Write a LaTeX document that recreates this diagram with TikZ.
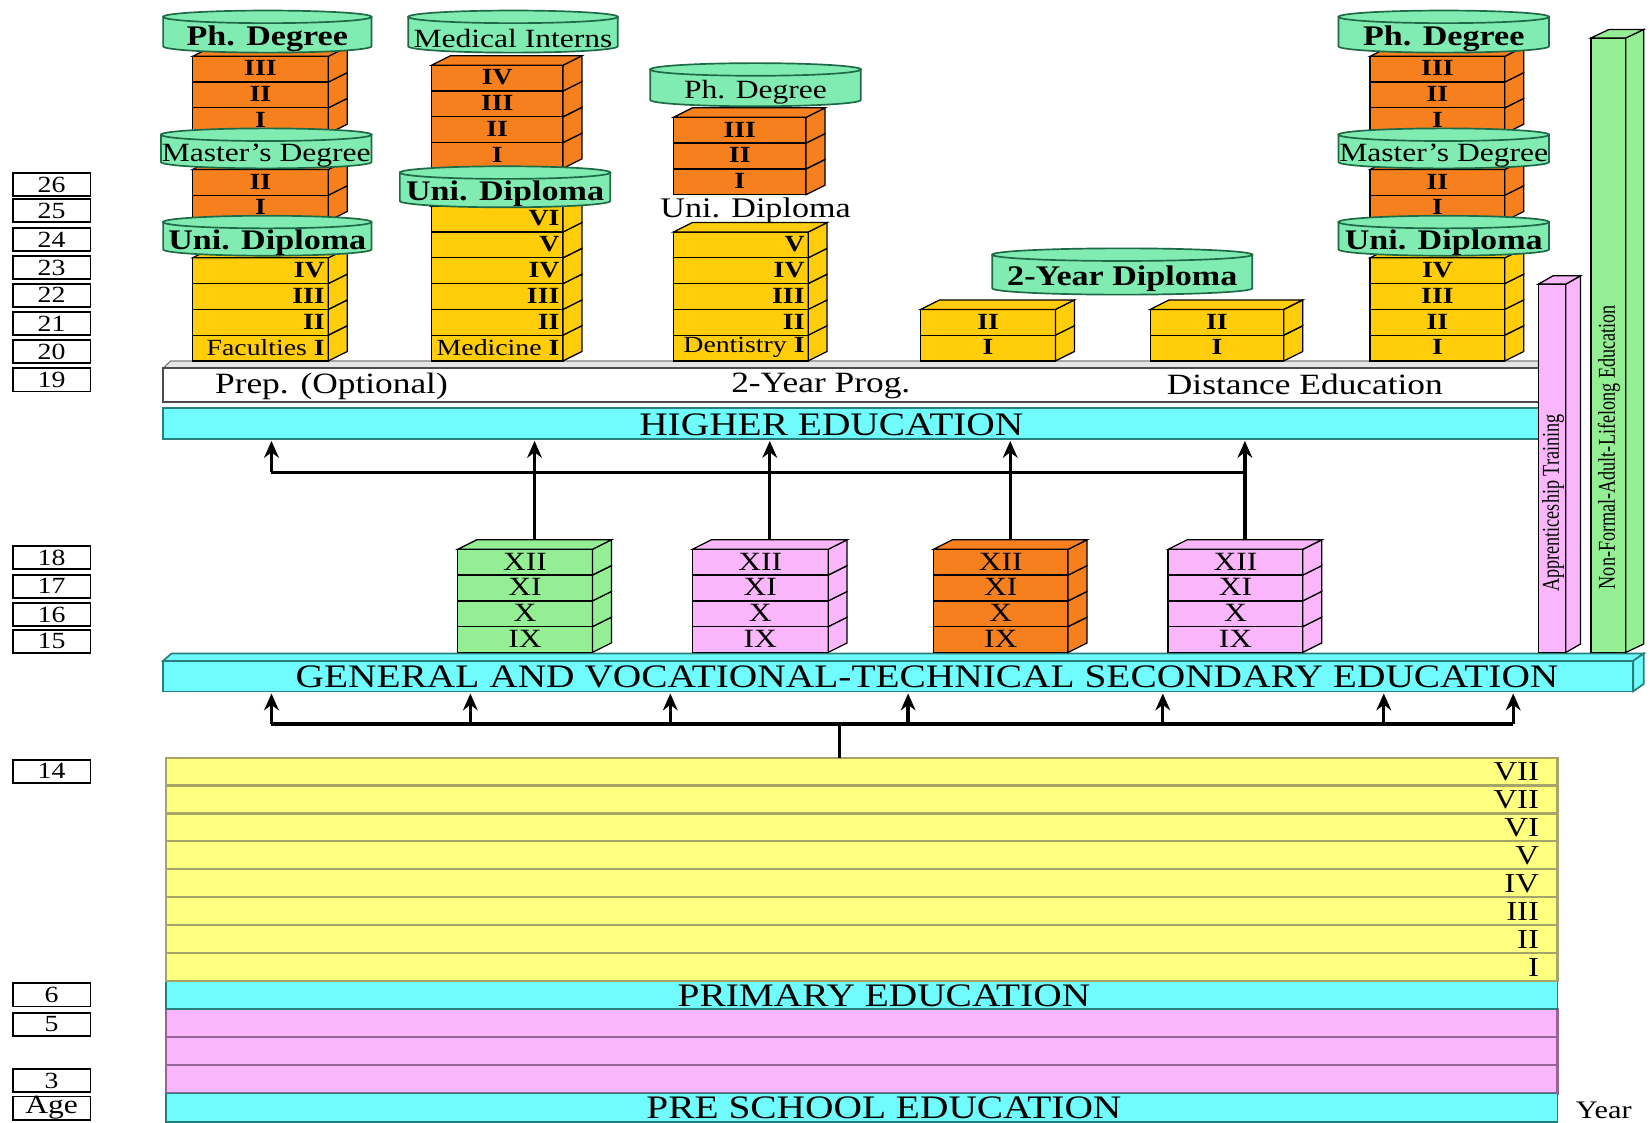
\documentclass[tikz,border=0pt]{standalone}
\usepackage{fontspec}
\setmainfont[FakeStretch=1.2]{Liberation Serif}
\newfontfamily\narrowserif[FakeStretch=0.75]{Liberation Serif}
\usetikzlibrary{arrows.meta}
\definecolor{bandcyan}{RGB}{112,252,252}
\definecolor{bandedge}{RGB}{40,125,125}
\definecolor{drumgreen}{RGB}{128,236,178}
\definecolor{drumedge}{RGB}{30,105,70}
\definecolor{tierorange}{RGB}{246,128,30}
\definecolor{tieryellow}{RGB}{255,205,10}
\definecolor{primyellow}{RGB}{255,255,128}
\definecolor{primedge}{RGB}{165,165,105}
\definecolor{softpink}{RGB}{250,182,250}
\definecolor{pinkedge}{RGB}{150,100,150}
\definecolor{softgreen}{RGB}{148,238,148}
\newcommand{\boldlab}{\fontsize{13.5}{13.5}\selectfont\bfseries}
\newcommand{\wordlab}[1]{{\mdseries #1}}
% one stack of 3D tiers, labels listed from the bottom up
\newcommand{\tierstack}[8]{%
  \foreach \lab [count=\k] in {#8} {
    \pgfmathsetmacro{\yb}{#4-(\k-1)*24.5}
    \pgfmathsetmacro{\yt}{\yb-24.5}
    \filldraw[tier, fill=#6] (#2,\yb) rectangle (#3,\yt);
    \filldraw[tier, fill=#6] (#3,\yb) -- ++(18,-9) -- ++(0,-24.5) -- (#3,\yt) -- cycle;
    \if r#7
      \node[tierlab, anchor=east] (#1-\k) at (#3-3,\yb-13) {\lab};
    \else
      \node[tierlab] (#1-\k) at ({(#2+#3)/2},\yb-13) {\lab};
    \fi
  }
  \pgfmathsetmacro{\ytop}{#4-#5*24.5}
  \filldraw[tier, fill=#6] (#2,\ytop) -- ++(18,-9) -- ++(#3-#2,0) -- (#3,\ytop) -- cycle;
  \coordinate (#1-top) at ({(#2+#3)/2+9},\ytop-9);
}
% a flat green drum carrying a degree name
\newcommand{\drum}[6]{%
  \pgfmathsetmacro{\drumrx}{(#3-#2)/4}
  \filldraw[drum] (#2,#4+6) -- (#2,#5-6)
    arc[start angle=180, end angle=360, x radius=\drumrx pt, y radius=3pt]
    -- (#3,#4+6) -- cycle;
  \filldraw[drum] ({(#2+#3)/2},#4+6) ellipse[x radius=\drumrx pt, y radius=3pt];
  \node[drumlab] (#1) at ({(#2+#3)/2},{(#4+#5)/2+7}) {#6};
}
\tikzset{
  tier/.style     = {draw=black, line width=0.6pt},
  tierlab/.style  = {font=\fontsize{11}{11}\selectfont\bfseries, inner sep=0pt},
  drum/.style     = {fill=drumgreen, draw=drumedge, line width=0.8pt},
  drumlab/.style  = {font=\fontsize{12.5}{12.5}\selectfont, inner sep=0pt},
  band/.style     = {fill=bandcyan, draw=bandedge, line width=0.8pt},
  bandlab/.style  = {font=\fontsize{15.6}{15.6}\selectfont, inner sep=0pt},
  progtext/.style = {font=\fontsize{14}{14}\selectfont, inner sep=0pt},
  primrow/.style  = {fill=primyellow, draw=primedge, line width=1.1pt},
  prerow/.style   = {fill=softpink, draw=pinkedge, line width=1.1pt},
  primlab/.style  = {font=\fontsize{13}{13}\selectfont, inner sep=0pt},
  vertlab/.style  = {font=\narrowserif\fontsize{11.5}{11.5}\selectfont, inner sep=0pt, rotate=90},
  agebox/.style   = {draw=black, line width=0.9pt, fill=white, minimum width=37pt,
                     minimum height=11pt, inner sep=0pt, font=\fontsize{11}{11}\selectfont},
  flowline/.style = {line width=1.6pt},
  uparrow/.style  = {flowline, -{Stealth[length=8pt,width=7pt]}}
}
\begin{document}
\begin{tikzpicture}[x=0.5pt, y=-0.5pt]
  \useasboundingbox (0,0) rectangle (1568,1067);
  \fill[white] (0,0) rectangle (1568,1067);

  % age column
  \foreach \a/\y in {26/175.5,25/200,24/227.5,23/254.5,22/280.5,21/307.5,20/334,19/361,
                     18/530,17/557,16/584,15/609.5,14/733,6/945.5,5/973.5,3/1027}
    \node[agebox] (age-\a) at (49,\y) {\a};
  \node[agebox, font=\fontsize{12.5}{12.5}\selectfont] (age-label) at (49,1053) {Age};

  % pre-school and primary
  \foreach \k in {0,1,2}
    \filldraw[prerow] (158,{959+\k*26.67}) rectangle (1480,{985.67+\k*26.67});
  \filldraw[band] (158,1039) rectangle (1480,1066);
  \node[bandlab] (presch) at (840,1053) {PRE SCHOOL EDUCATION};
  \node[font=\fontsize{12}{12}\selectfont, inner sep=0pt] (year) at (1524,1055) {Year};
  \filldraw[band] (158,932) rectangle (1480,959);
  \node[bandlab] (primary) at (840,946) {PRIMARY EDUCATION};
  \foreach \lab [count=\k] in {VII,VII,VI,V,IV,III,II,I} {
    \pgfmathsetmacro{\yt}{720+(\k-1)*26.5}
    \filldraw[primrow] (158,\yt) rectangle (1480,\yt+26.5);
    \node[primlab, anchor=east] (prim-\k) at (1463,\yt+13.5) {\lab};
  }

  % secondary band
  \filldraw[band] (155,628) -- (163,621) -- (1562,621) -- (1552,628) -- cycle;
  \filldraw[band] (1552,628) -- (1562,621) -- (1562,650) -- (1552,657) -- cycle;
  \filldraw[band] (155,628) rectangle (1552,657);
  \node[bandlab] (genvoc) at (881,643) {GENERAL AND VOCATIONAL-TECHNICAL SECONDARY EDUCATION};

  % higher education bands
  \filldraw[draw=gray, fill=gray!20, line width=0.6pt] (155,350) -- (162,343) -- (1462,343) -- (1462,350) -- cycle;
  \filldraw[draw=gray!60!black, fill=white, line width=0.8pt] (155,350) rectangle (1462,382);
  \node[progtext] (prep) at (315,367) {Prep. (Optional)};
  \node[progtext] (twoprog) at (780,367) {2-Year Prog.};
  \node[progtext] (distance) at (1240,365) {Distance Education};
  \filldraw[band] (155,388) rectangle (1462,417);
  \node[bandlab] (hied) at (790,404) {HIGHER EDUCATION};

  % university stacks
  \tierstack{fph}{183}{312}{127}{3}{tierorange}{c}{I,II,III}
  \tierstack{fma}{183}{312}{210}{2}{tierorange}{c}{I,II}
  \tierstack{fac}{183}{312}{343}{4}{tieryellow}{r}{\wordlab{Faculties} I,II,III,IV}
  \tierstack{mint}{410}{535}{160}{4}{tierorange}{c}{I,II,III,IV}
  \tierstack{med}{410}{535}{343}{6}{tieryellow}{r}{\wordlab{Medicine} I,II,III,IV,V,VI}
  \tierstack{dph}{640}{766}{185}{3}{tierorange}{c}{I,II,III}
  \tierstack{den}{640}{768}{343}{5}{tieryellow}{r}{\wordlab{Dentistry} I,II,III,IV,V}
  \tierstack{twa}{875}{1003}{343}{2}{tieryellow}{c}{I,II}
  \tierstack{twb}{1093}{1220}{343}{2}{tieryellow}{c}{I,II}
  \tierstack{xph}{1302}{1430}{127}{3}{tierorange}{c}{I,II,III}
  \tierstack{xma}{1302}{1430}{210}{2}{tierorange}{c}{I,II}
  \tierstack{xdi}{1302}{1430}{343}{4}{tieryellow}{c}{I,II,III,IV}
  \node[progtext, font=\fontsize{13.5}{13.5}\selectfont] (dentdip) at (718,200) {Uni. Diploma};

  % degree drums
  \drum{fac-phd}{155}{353}{10}{50}{\boldlab Ph. Degree}
  \drum{fac-msc}{153}{353}{122}{160}{Master's Degree}
  \drum{fac-dip}{155}{353}{205}{243}{\boldlab Uni. Diploma}
  \drum{med-int}{388}{587}{10}{50}{Medical Interns}
  \drum{med-dip}{380}{580}{158}{197}{\boldlab Uni. Diploma}
  \drum{den-phd}{618}{818}{60}{101}{Ph. Degree}
  \drum{two-dip}{943}{1190}{236}{280}{\boldlab 2-Year Diploma}
  \drum{dis-phd}{1272}{1472}{10}{50}{\boldlab Ph. Degree}
  \drum{dis-msc}{1272}{1472}{122}{160}{Master's Degree}
  \drum{dis-dip}{1272}{1472}{205}{243}{\boldlab Uni. Diploma}

  % secondary stacks
  \begin{scope}[tierlab/.append style={font=\fontsize{12.5}{12.5}\selectfont}]
    \tierstack{s1}{435}{563}{620}{4}{softgreen}{c}{IX,X,XI,XII}
    \tierstack{s2}{658}{787}{620}{4}{softpink}{c}{IX,X,XI,XII}
    \tierstack{s3}{887}{1015}{620}{4}{tierorange}{c}{IX,X,XI,XII}
    \tierstack{s4}{1110}{1238}{620}{4}{softpink}{c}{IX,X,XI,XII}
  \end{scope}

  % vertical side tracks
  \filldraw[tier, fill=softpink] (1462,270) rectangle (1488,620);
  \filldraw[tier, fill=softpink] (1488,270) -- (1502,262) -- (1502,612) -- (1488,620) -- cycle;
  \filldraw[tier, fill=softpink] (1462,270) -- (1476,262) -- (1502,262) -- (1488,270) -- cycle;
  \node[vertlab] (appr) at (1476,478) {Apprenticeship Training};
  \filldraw[tier, fill=softgreen] (1512,36) rectangle (1545,620);
  \filldraw[tier, fill=softgreen] (1545,36) -- (1562,28) -- (1562,612) -- (1545,620) -- cycle;
  \filldraw[tier, fill=softgreen] (1512,36) -- (1529,28) -- (1562,28) -- (1545,36) -- cycle;
  \node[vertlab] (lifelong) at (1529,425) {Non-Formal-Adult-Lifelong Education};

  % flow into higher education
  \coordinate (hibase) at (790,419);
  \coordinate (busW) at (258,449);
  \draw[flowline] (busW) -- (busW -| s4-top);
  \draw[uparrow] (busW) -- (busW |- hibase);
  \foreach \s in {s1,s2,s3,s4}
    \draw[uparrow] (\s-top) -- (\s-top |- hibase);

  % flow into secondary education
  \coordinate (gvbase) at (881,659);
  \coordinate (primtop) at (798,720);
  \coordinate (junction) at (798,688);
  \draw[flowline] (primtop) -- (junction);
  \foreach \x [count=\i] in {258,447,637,863,1105,1315,1438} {
    \coordinate (gv\i) at (\x,688);
    \draw[uparrow] (gv\i) -- (gv\i |- gvbase);
  }
  \draw[flowline] (gv1) -- (gv7);
\end{tikzpicture}
\end{document}
